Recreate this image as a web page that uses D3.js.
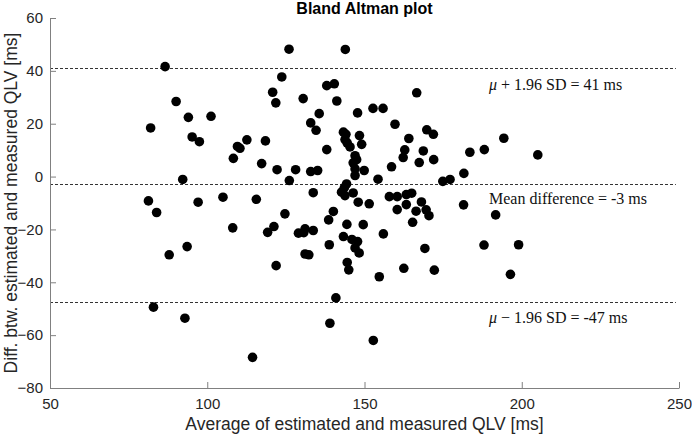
<!DOCTYPE html>
<html>
<head>
<meta charset="utf-8">
<script src="https://cdn.jsdelivr.net/npm/d3@7"></script>
<style>
  body { margin: 0; background: #fff; }
  .axis text { font-family: "Liberation Sans", Arial, sans-serif; font-size: 15px; fill: #262626; }
  .axis path, .axis line { stroke: #808080; }
  .note { font-family: "Liberation Serif", "DejaVu Serif", serif; font-size: 16px; fill: #111; }
</style>
</head>
<body>
<svg id="chart" width="692" height="436"></svg>
<script>
// average of estimated and measured QLV [ms]
const avgValues = [
  86.6, 90.1, 82.0, 94.0, 101.2, 95.2, 97.5, 109.6, 110.4, 112.6,
  118.5, 108.3, 117.3, 92.2, 120.8, 126.0, 143.9, 123.7, 121.8, 130.5,
  135.6, 132.9, 134.6, 138.0, 140.4, 141.2, 138.0, 143.3, 144.1, 122.2,
  128.1, 132.9, 135.1, 126.1, 133.7, 81.3, 83.9, 97.1, 105.0, 115.6,
  124.7, 140.1, 147.8, 152.7, 155.9, 159.7, 148.4, 143.8, 144.5, 145.4,
  149.1, 147.0, 147.5, 146.4, 147.0, 147.0, 149.9, 154.3, 158.6, 144.3,
  166.6, 169.8, 171.9, 164.1, 162.8, 168.7, 162.3, 167.4, 172.0, 183.5,
  188.1, 194.3, 205.1, 181.6, 174.9, 177.2, 142.7, 143.8, 146.4, 148.0,
  151.5, 157.9, 160.4, 163.3, 165.0, 160.4, 163.3, 166.4, 168.1, 169.6,
  170.5, 181.5, 191.7, 165.3, 108.1, 121.2, 119.2, 87.9, 93.6, 121.9,
  82.9, 92.9, 114.4, 139.0, 140.9, 138.8, 138.6, 144.4, 143.3, 146.0,
  147.8, 147.0, 148.3, 144.5, 145.0, 129.0, 131.1, 130.7, 133.7, 131.1,
  132.3, 149.6, 156.0, 154.7, 152.8, 169.2, 188.0, 199.0, 162.5, 172.2,
  196.4, 143.6
];
// difference between estimated and measured QLV [ms]
const diffValues = [
  41.6, 28.4, 18.4, 22.4, 22.8, 15.0, 13.2, 11.4, 10.7, 13.9,
  13.5, 6.9, 4.9, -1.1, 31.9, 48.2, 48.1, 37.7, 27.9, 29.5,
  23.8, 20.3, 17.5, 34.4, 35.1, 28.6, 10.2, 16.8, 16.0, 2.6,
  2.6, 1.9, 2.3, -1.5, -6.1, -9.2, -13.6, -9.7, -7.8, -8.6,
  -14.1, -13.2, 24.1, 25.8, 25.8, 19.8, 15.5, 14.0, 12.7, 11.2,
  12.2, 7.9, 6.4, 5.2, 2.9, 0.4, 2.3, -1.0, 3.7, -2.8,
  31.7, 17.7, 16.0, 14.4, 10.1, 9.7, 7.2, 5.3, 6.4, 9.2,
  10.2, 14.5, 8.2, 1.2, -1.8, -1.1, -5.9, -7.2, -6.2, -9.7,
  -10.3, -7.6, -7.6, -6.8, -6.3, -12.5, -10.6, -13.1, -9.6, -12.6,
  -14.8, -10.7, -14.5, -17.3, -19.4, -18.9, -21.1, -29.6, -26.5, -33.7,
  -49.4, -53.6, -68.4, -55.5, -45.9, -25.8, -16.4, -18.1, -22.7, -23.8,
  -24.6, -27.0, -28.9, -32.5, -35.3, -21.4, -19.8, -21.2, -20.4, -29.3,
  -29.6, -18.2, -21.7, -37.9, -62.0, -27.2, -25.9, -25.8, -34.7, -35.4,
  -37.0, -4.2
];

const meanDiff = -2.9;
const upperLimit = 41.1;
const lowerLimit = -47.3;

const xTicks = [50, 100, 150, 200, 250];
const yTicks = [-80, -60, -40, -20, 0, 20, 40, 60];

const svg = d3.select('#chart');

const x = d3.scaleLinear().domain([50, 250]).range([50, 679]);
const y = d3.scaleLinear().domain([-80, 60]).range([388, 18]);

// reference lines
const refLines = [upperLimit, meanDiff, lowerLimit];
svg.append('g')
  .selectAll('line')
  .data(refLines)
  .enter()
  .append('line')
  .attr('x1', x(50))
  .attr('x2', x(249))
  .attr('y1', d => Math.round(y(d)) + 0.5)
  .attr('y2', d => Math.round(y(d)) + 0.5)
  .attr('stroke', '#333')
  .attr('stroke-width', 1)
  .attr('stroke-dasharray', '3,2');

// points
svg.append('g')
  .selectAll('circle')
  .data(avgValues.map((a, i) => ({ a, d: diffValues[i] })))
  .enter()
  .append('circle')
  .attr('cx', p => x(p.a))
  .attr('cy', p => y(p.d))
  .attr('r', 4.8)
  .attr('fill', '#000');

// axes, ticks pointing inward
const axisX = svg.append('g')
  .attr('class', 'axis')
  .attr('transform', `translate(0,${y(-80)})`)
  .call(d3.axisBottom(x).tickValues(xTicks).tickSizeInner(-6).tickSizeOuter(0).tickPadding(10));

const axisY = svg.append('g')
  .attr('class', 'axis')
  .attr('transform', `translate(${x(50)},0)`)
  .call(d3.axisLeft(y).tickValues(yTicks).tickSizeInner(-6).tickSizeOuter(0).tickPadding(7));

[axisX, axisY].forEach(g => g.select('.domain').attr('stroke', '#808080'));

// axis labels and title
svg.append('text')
  .attr('x', (x(50) + x(250)) / 2)
  .attr('y', 430)
  .attr('text-anchor', 'middle')
  .style('font-family', '"Liberation Sans", Arial, sans-serif')
  .style('font-size', '17.5px')
  .style('fill', '#262626')
  .text('Average of estimated and measured QLV [ms]');

svg.append('text')
  .attr('transform', `translate(17,${(y(-80) + y(60)) / 2}) rotate(-90)`)
  .attr('text-anchor', 'middle')
  .style('font-family', '"Liberation Sans", Arial, sans-serif')
  .style('font-size', '17.5px')
  .style('fill', '#262626')
  .text('Diff. btw. estimated and measured QLV [ms]');

svg.append('text')
  .attr('x', (x(50) + x(250)) / 2)
  .attr('y', 14)
  .attr('text-anchor', 'middle')
  .style('font-family', '"Liberation Sans", Arial, sans-serif')
  .style('font-size', '16px')
  .style('font-weight', 'bold')
  .text('Bland Altman plot');

// annotations
const notes = [
  { mu: true, sign: '+', rest: ' 1.96 SD = 41 ms', yv: upperLimit, dy: 22 },
  { mu: false, rest: 'Mean difference = -3 ms', yv: meanDiff, dy: 20 },
  { mu: true, sign: '\u2212', rest: ' 1.96 SD = -47 ms', yv: lowerLimit, dy: 21 },
];

notes.forEach(n => {
  const t = svg.append('text')
    .attr('class', 'note')
    .attr('x', 489)
    .attr('y', y(n.yv) + n.dy);
  if (n.mu) {
    t.append('tspan').style('font-style', 'italic').text('\u03bc');
    t.append('tspan').text(' ' + n.sign + n.rest);
  } else {
    t.text(n.rest);
  }
});
</script>
</body>
</html>
